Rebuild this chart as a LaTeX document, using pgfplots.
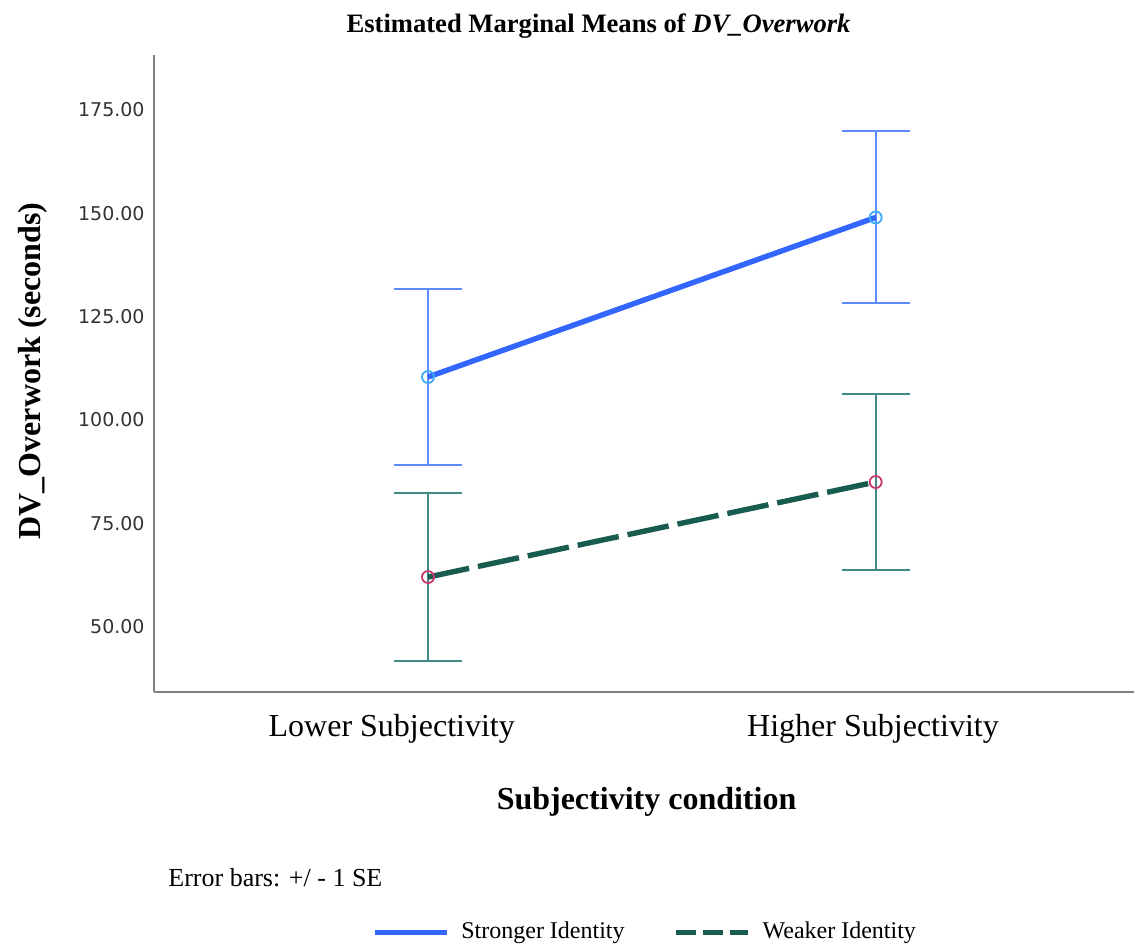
\documentclass[border=0pt]{standalone}
\usepackage{fontspec}
\setmainfont{Liberation Serif}
\newfontfamily\dejavu{DejaVu Sans}
\usepackage{pgfplots}
\pgfplotsset{compat=1.18}
\definecolor{sblue}{RGB}{51,102,255}
\definecolor{sblueerr}{RGB}{92,140,255}
\definecolor{sbluemk}{RGB}{60,170,250}
\definecolor{wteal}{RGB}{24,92,80}
\definecolor{wtealerr}{RGB}{64,138,134}
\definecolor{wmk}{RGB}{200,54,107}
\definecolor{axgray}{RGB}{128,128,128}
\begin{document}
\begin{tikzpicture}
\useasboundingbox (-77pt,-127pt) rectangle (490pt,346pt);
\begin{axis}[
  at={(0pt,0pt)}, anchor=south west,
  scale only axis, width=490pt, height=318.5pt,
  xmin=-0.612, xmax=1.577, ymin=34.2, ymax=188.3,
  axis lines*=left,
  axis line style={draw=axgray, line width=0.9pt},
  major tick length=0pt,
  xtick={-0.081,0.994},
  xticklabels={Lower Subjectivity, Higher Subjectivity},
  xticklabel style={font=\fontsize{16}{19}\selectfont, inner sep=0pt, yshift=-11pt},
  ytick={50,75,100,125,150,175},
  yticklabel style={font=\dejavu\fontsize{9.5}{11}\selectfont, text=black!80, inner sep=0pt, xshift=-4.5pt},
  /pgf/number format/assume math mode=true,
  y tick label style={/pgf/number format/.cd, fixed, fixed zerofill, precision=2},
  xlabel={Subjectivity condition},
  xlabel style={font=\bfseries\fontsize{16}{19}\selectfont, at={(axis description cs:0.5026,-0.1837)}, anchor=base},
  ylabel={DV\_Overwork (seconds)},
  ylabel style={font=\bfseries\fontsize{16}{19}\selectfont, at={(axis description cs:-0.1163,0.504)}, anchor=base},
  title={Estimated Marginal Means of \textit{DV\_Overwork}},
  title style={font=\bfseries\fontsize{13.3}{15}\selectfont, at={(axis description cs:0.4536,1.0165)}, anchor=base},
  clip=false,
  legend columns=2,
  legend style={at={(axis description cs:0.2224,-0.3768)}, anchor=west, draw=none, fill=none,
    inner sep=0pt, font=\fontsize{12}{14}\selectfont,
    nodes={inner sep=0pt},
    /tikz/every odd column/.append style={column sep=6pt},
    /tikz/every even column/.append style={column sep=24.5pt}},
]
% error bars
\addplot[draw=none, forget plot, mark=none,
  error bars/.cd, y dir=both, y explicit,
  error bar style={color=sblueerr, line width=1pt},
  error mark options={rotate=90, mark size=17pt, line width=1pt, color=sblueerr}]
  coordinates {(0,110.4) +- (0,21.2) (1,149.0) +- (0,20.8)};
\addplot[draw=none, forget plot, mark=none,
  error bars/.cd, y dir=both, y explicit,
  error bar style={color=wtealerr, line width=1pt},
  error mark options={rotate=90, mark size=17pt, line width=1pt, color=wtealerr}]
  coordinates {(0,62.0) +- (0,20.3) (1,85.0) +- (0,21.2)};
% means
\addplot[color=sblue, line width=2.7pt, mark=o, mark size=3pt,
  mark options={draw=sbluemk, line width=0.9pt, solid},
  legend image code/.code={\draw[color=sblue, line width=2.5pt] (0pt,0pt) -- (36pt,0pt);}]
  coordinates {(0,110.4) (1,149.0)};
\addlegendentry{Stronger Identity}
\addplot[color=wteal, line width=2.7pt, dash pattern=on 21pt off 4.5pt, mark=o, mark size=3pt,
  mark options={draw=wmk, line width=0.9pt, solid},
  legend image code/.code={\draw[color=wteal, line width=2.5pt, dash pattern=on 10pt off 3.5pt] (0pt,0pt) -- (36pt,0pt);}]
  coordinates {(0,62.0) (1,85.0)};
\addlegendentry{Weaker Identity}
\node[anchor=base west, inner sep=0pt, font=\fontsize{13}{15}\selectfont] at (axis description cs:0.0143,-0.3046) {Error bars: +/ - 1 SE};
\end{axis}
\end{tikzpicture}
\end{document}
